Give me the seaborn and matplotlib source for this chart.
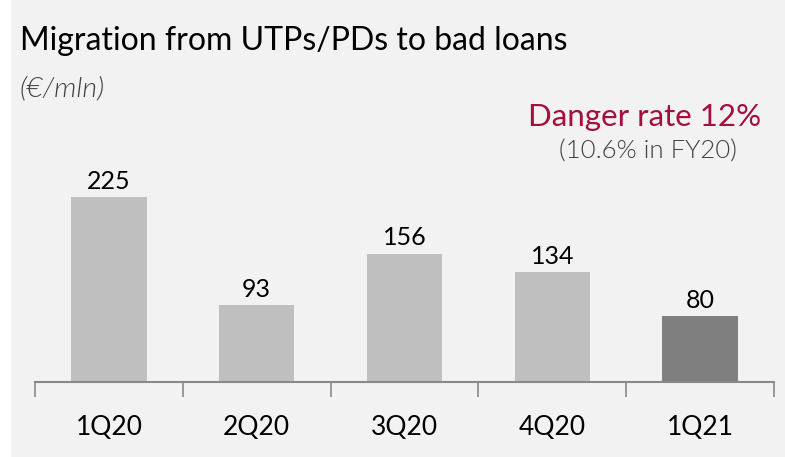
import matplotlib
matplotlib.use("Agg")
import matplotlib.pyplot as plt
import seaborn as sns
import pandas as pd
from matplotlib.patches import Rectangle

quarters = ["1Q20", "2Q20", "3Q20", "4Q20", "1Q21"]
migration = [225, 93, 156, 134, 80]
bar_colors = ["#bfbfbf", "#bfbfbf", "#bfbfbf", "#bfbfbf", "#7f7f7f"]

title = "Migration from UTPs/PDs to bad loans"
subtitle = "(€/mln)"
danger = "Danger rate 12%"
danger_note = "(10.6% in FY20)"

sns.set_style("white")
plt.rcParams["font.family"] = ["Lato", "DejaVu Sans"]

df = pd.DataFrame({"quarter": quarters, "value": migration})

fig = plt.figure(figsize=(7.85, 4.57), dpi=100)
fig.patch.set_facecolor("white")
# grey panel behind everything
fig.patches.append(Rectangle((11 / 785, 0), 1, 1, transform=fig.transFigure,
                             facecolor="#f2f2f2", edgecolor="none", zorder=-10))

ax = fig.add_axes([35 / 785, 75 / 457, 739 / 785, 232 / 457])
ax.set_facecolor("none")
sns.barplot(data=df, x="quarter", y="value", hue="quarter", palette=bar_colors,
            legend=False, width=0.51, saturation=1, linewidth=0,
            edgecolor="none", ax=ax)

for c in ax.containers:
    ax.bar_label(c, padding=3, fontsize=18, color="black")

ax.set_xlim(-0.5, len(quarters) - 0.5)
ax.set_ylim(0, 282)
ax.set_xlabel("")
ax.set_ylabel("")
ax.set_yticks([])
for s in ["top", "right", "left"]:
    ax.spines[s].set_visible(False)
ax.spines["bottom"].set_color("#898989")
ax.spines["bottom"].set_linewidth(1.5)

ax.set_xticks(range(len(quarters)))
ax.set_xticklabels(quarters, fontsize=19, color="black")
ax.set_xticks([i - 0.5 for i in range(len(quarters) + 1)], minor=True)
ax.tick_params(axis="x", which="major", length=0, pad=24)
ax.tick_params(axis="x", which="minor", length=11, width=1.2, color="#898989",
               direction="out", bottom=True)

fig.text(20 / 785, 1 - 50 / 457, title, fontsize=23, fontweight="normal",
         color="black", ha="left", va="baseline")
fig.text(19 / 785, 1 - 96 / 457, subtitle, fontsize=20.5, fontweight=300,
         style="italic", color="#404040", ha="left", va="baseline")
fig.text(645 / 785, 1 - 126 / 457, danger, fontsize=22.5, color="#a50f3c",
         ha="center", va="baseline")
fig.text(648 / 785, 1 - 159 / 457, danger_note, fontsize=18.5, fontweight=300,
         color="#404040", ha="center", va="baseline")

fig.savefig("out.png", dpi=100, facecolor=fig.get_facecolor())
